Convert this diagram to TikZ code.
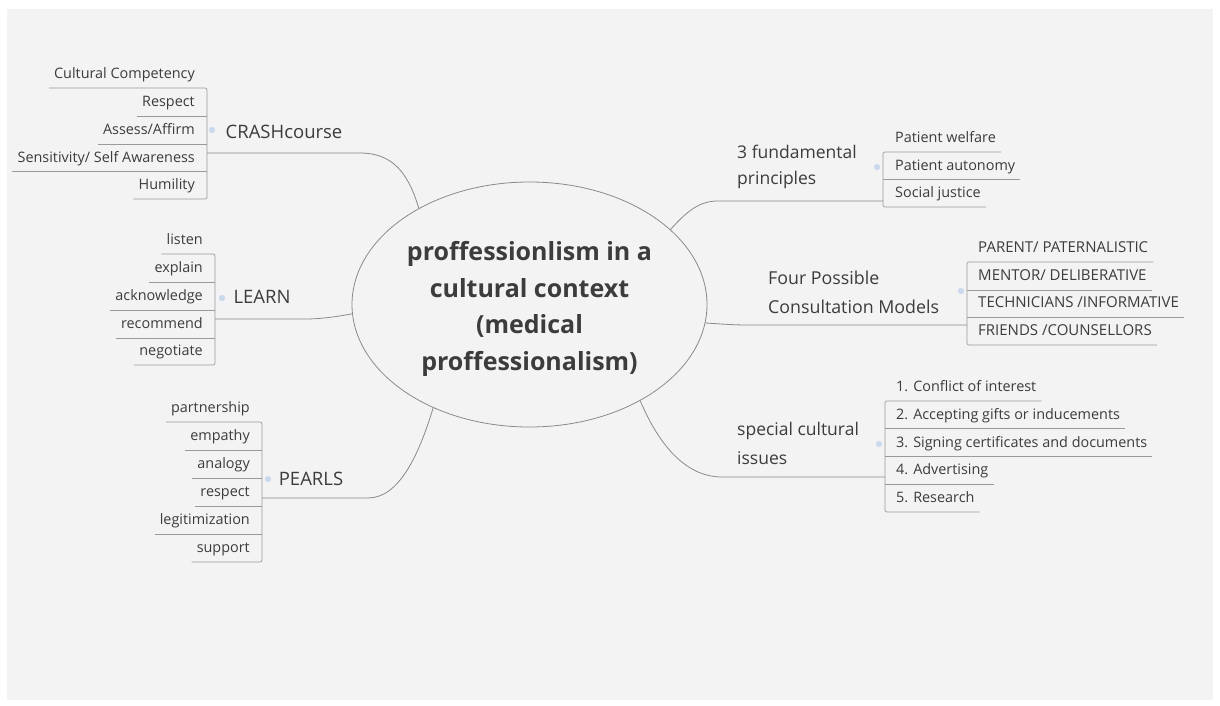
\documentclass[tikz,border=0pt]{standalone}
\usepackage{fontspec}
\setmainfont{Open Sans}
\usetikzlibrary{shapes.geometric}
\definecolor{bgc}{HTML}{F3F3F3}
\definecolor{txt}{HTML}{3C3C3C}
\definecolor{lnc}{HTML}{8A8A8A}
\definecolor{lfc}{HTML}{9A9A9A}
\definecolor{mkc}{HTML}{C9D8EC}
\begin{document}
\begin{tikzpicture}[x=1pt,y=-1pt,
  leafL/.style={anchor=south east, font=\fontsize{14.4}{17}\selectfont, text=txt,
     text height=10.5pt, text depth=3.5pt, inner xsep=5pt, inner ysep=5.5pt},
  leafR/.style={anchor=south west, font=\fontsize{14.4}{17}\selectfont, text=txt,
     text height=10.5pt, text depth=3.5pt, inner xsep=5pt, inner ysep=5.5pt},
  capsR/.style={leafR, font=\fontsize{15}{17}\selectfont},
  branch/.style={font=\fontsize{18.5}{22}\selectfont, text=txt, inner sep=0pt},
  mline/.style={draw=lnc, line width=0.8pt},
  lline/.style={draw=lfc, line width=0.7pt, rounded corners=2pt},
  marker/.style={circle, fill=mkc, draw=mkc!80!white, minimum size=6pt, inner sep=0pt}
]
\useasboundingbox (0,0) rectangle (1220,706);
\fill[white] (0,0) rectangle (1220,706);
\fill[bgc] (7,9) rectangle (1213,700);

% central topic
\node[ellipse, draw=lnc, line width=0.8pt, minimum width=355pt, minimum height=245pt, inner sep=0pt] (root) at (529.5,304.5) {};
\node[align=center, font=\bfseries\fontsize{25}{36.5}\selectfont, text=txt] (roottxt) at (529.5,309) {proffessionlism in a\\cultural context\\(medical\\proffessionalism)};

% ---------- CRASHcourse ----------
\node[branch] (crash) at (284,132) {CRASHcourse};
\node[marker] (m1) at (212,130) {};
\coordinate (b1) at (207,153);
\coordinate (j1) at (360,153);
\node[leafL] (c11) at (200,88) {Cultural Competency};
\node[leafL] (c12) at (200,116) {Respect};
\node[leafL] (c13) at (200,144) {Assess/Affirm};
\node[leafL] (c14) at (200,171.5) {Sensitivity/ Self Awareness};
\node[leafL] (c15) at (200,199) {Humility};
\draw[lline] (c11.south west) -- (c11.south west -| b1) -- (c15.south west -| b1) -- (c15.south west);
\foreach \n in {c12,c13,c14} \draw[lline] (\n.south west) -- (\n.south west -| b1);
\draw[mline] (root.139.7) .. controls (408,172) and (392,153) .. (j1) -- (b1);

% ---------- LEARN ----------
\node[branch] (learn) at (262,297) {LEARN};
\node[marker] (m2) at (222,298) {};
\coordinate (b2) at (215,319);
\coordinate (j2) at (305,319);
\node[leafL] (c21) at (208,254) {listen};
\node[leafL] (c22) at (208,282) {explain};
\node[leafL] (c23) at (208,310) {acknowledge};
\node[leafL] (c24) at (208,338) {recommend};
\node[leafL] (c25) at (208,365) {negotiate};
\draw[lline] (c21.south west) -- (c21.south west -| b2) -- (c25.south west -| b2) -- (c25.south west);
\foreach \n in {c22,c23,c24} \draw[lline] (\n.south west) -- (\n.south west -| b2);
\draw[mline] (root.183.7) .. controls (335,317) and (320,319) .. (j2) -- (b2);

% ---------- PEARLS ----------
\node[branch] (pearls) at (311,479) {PEARLS};
\node[marker] (m3) at (268,479) {};
\coordinate (b3) at (262,498);
\coordinate (j3) at (368,498);
\node[leafL] (c31) at (255,422) {partnership};
\node[leafL] (c32) at (255,450) {empathy};
\node[leafL] (c33) at (255,478) {analogy};
\node[leafL] (c34) at (255,506) {respect};
\node[leafL] (c35) at (255,534) {legitimization};
\node[leafL] (c36) at (255,562) {support};
\draw[lline] (c31.south west) -- (c31.south west -| b3) -- (c36.south west -| b3) -- (c36.south west);
\foreach \n in {c32,c33,c34,c35} \draw[lline] (\n.south west) -- (\n.south west -| b3);
\draw[mline] (root.227.3) .. controls (418,458) and (398,498) .. (j3) -- (b3);

% ---------- 3 fundamental principles ----------
\node[branch, anchor=west, align=left, font=\fontsize{17.5}{26.5}\selectfont] (fund) at (737,167) {3 fundamental\\principles};
\node[marker] (m4) at (877,167) {};
\coordinate (b4) at (883,201);
\coordinate (j4) at (718,201);
\node[leafR] (c41) at (890,152) {Patient welfare};
\node[leafR] (c42) at (890,179.5) {Patient autonomy};
\node[leafR] (c43) at (890,207) {Social justice};
\draw[lline] (c41.south east) -- (c41.south east -| b4) -- (c43.south east -| b4) -- (c43.south east);
\draw[lline] (c42.south east) -- (c42.south east -| b4);
\draw[mline] (root.28.1) .. controls (688,210) and (700,201) .. (j4) -- (b4);

% ---------- Four Possible Consultation Models ----------
\node[branch, anchor=west, align=left, font=\fontsize{17.8}{29}\selectfont] (four) at (768,292.5) {Four Possible\\Consultation Models};
\node[marker] (m5) at (961,291) {};
\coordinate (b5) at (967,325);
\coordinate (j5) at (748,325);
\node[capsR] (c51) at (973,262) {PARENT/ PATERNALISTIC};
\node[capsR] (c52) at (973,290) {MENTOR/ DELIBERATIVE};
\node[capsR] (c53) at (973,317) {TECHNICIANS /INFORMATIVE};
\node[capsR] (c54) at (973,345) {FRIENDS /COUNSELLORS};
\draw[lline] (c51.south east) -- (c51.south east -| b5) -- (c54.south east -| b5) -- (c54.south east);
\foreach \n in {c52,c53} \draw[lline] (\n.south east) -- (\n.south east -| b5);
\draw[mline] (root.354.4) .. controls (722,324) and (732,325) .. (j5) -- (b5);

% ---------- special cultural issues ----------
\node[branch, anchor=west, align=left, font=\fontsize{17.5}{29}\selectfont] (spec) at (737,443.5) {special cultural\\issues};
\node[marker] (m6) at (879,444) {};
\coordinate (b6) at (885,477);
\coordinate (j6) at (722,477);
\node[leafR] (c61) at (891,401) {1. Conflict of interest};
\node[leafR] (c62) at (891,428.5) {2. Accepting gifts or inducements};
\node[leafR] (c63) at (891,456.5) {3. Signing certificates and documents};
\node[leafR] (c64) at (891,484) {4. Advertising};
\node[leafR] (c65) at (891,512) {5. Research};
\draw[lline] (c61.south east) -- (c61.south east -| b6) -- (c65.south east -| b6) -- (c65.south east);
\foreach \n in {c62,c63,c64} \draw[lline] (\n.south east) -- (\n.south east -| b6);
\draw[mline] (root.319.1) .. controls (662,452) and (690,477) .. (j6) -- (b6);
\end{tikzpicture}
\end{document}
